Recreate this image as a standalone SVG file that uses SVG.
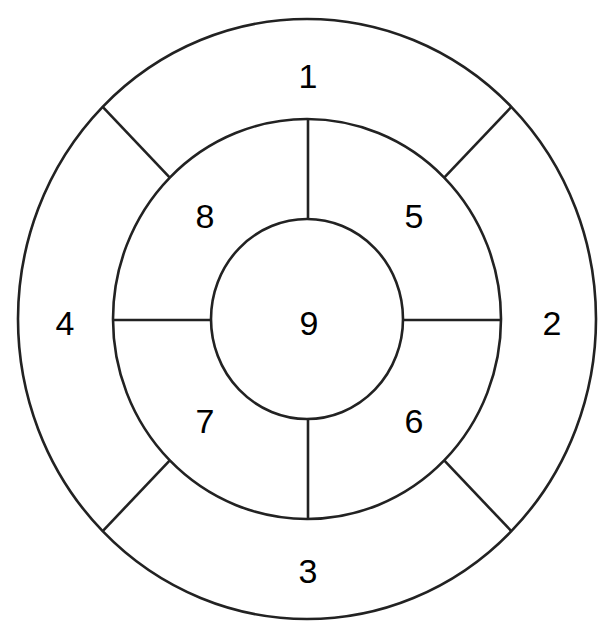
<svg xmlns="http://www.w3.org/2000/svg" width="612" height="638" viewBox="0 0 612 638">
<style>
.ring{fill:none;stroke:#222;stroke-width:2.6}
.div{stroke:#222;stroke-width:2.6;fill:none}
.lbl{font-family:"Liberation Sans",Arial,sans-serif;font-size:34px;fill:#000;text-anchor:middle}
</style>
<rect width="612" height="638" fill="#fff"/>
<g id="rings">
<ellipse class="ring" cx="307" cy="319" rx="289" ry="300"/>
<ellipse class="ring" cx="307" cy="319" rx="194" ry="200"/>
<ellipse class="ring" cx="307" cy="319" rx="96" ry="100"/>
</g>
<g id="connectors">
<line class="div" x1="102.7" y1="106.9" x2="169.8" y2="177.6"/>
<line class="div" x1="511.3" y1="106.9" x2="444.2" y2="177.6"/>
<line class="div" x1="102.7" y1="531.1" x2="169.8" y2="460.4"/>
<line class="div" x1="511.3" y1="531.1" x2="444.2" y2="460.4"/>
<line class="div" x1="308" y1="119" x2="308" y2="219"/>
<line class="div" x1="308" y1="419" x2="308" y2="519"/>
<line class="div" x1="113" y1="320" x2="211" y2="320"/>
<line class="div" x1="403" y1="320" x2="501" y2="320"/>
</g>
<g id="seg1"><text class="lbl" x="308" y="88">1</text></g>
<g id="seg2"><text class="lbl" x="552" y="335">2</text></g>
<g id="seg3"><text class="lbl" x="308" y="583">3</text></g>
<g id="seg4"><text class="lbl" x="65" y="335">4</text></g>
<g id="seg5"><text class="lbl" x="414" y="228">5</text></g>
<g id="seg6"><text class="lbl" x="414" y="433">6</text></g>
<g id="seg7"><text class="lbl" x="205" y="433">7</text></g>
<g id="seg8"><text class="lbl" x="205" y="228">8</text></g>
<g id="seg9"><text class="lbl" x="309" y="335">9</text></g>
</svg>
